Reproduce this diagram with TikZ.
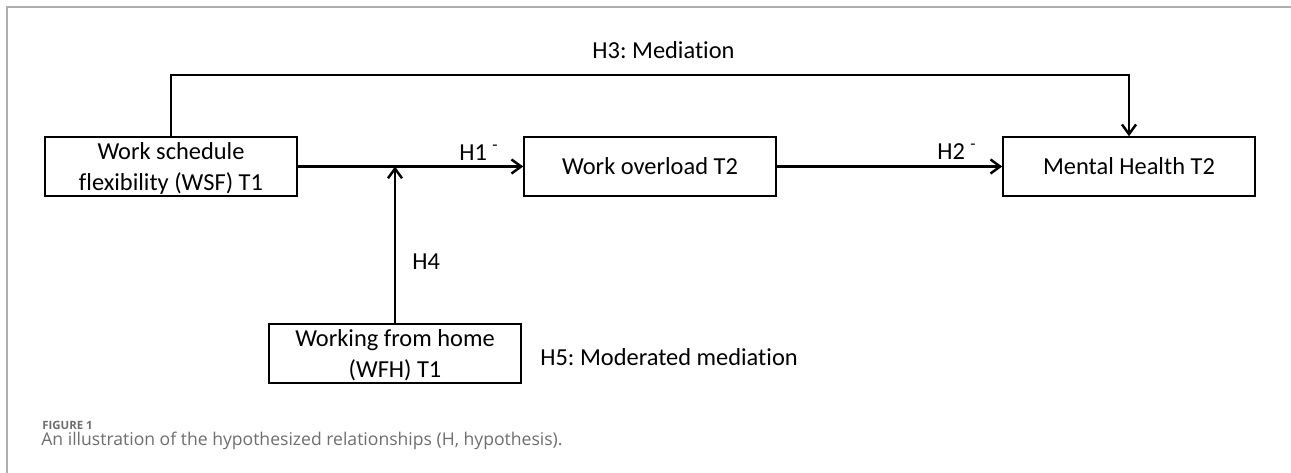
\documentclass[tikz,border=0pt]{standalone}
\usepackage{fontspec}
\setmainfont{Carlito}[Ligatures=NoCommon]
\newfontfamily\capfont{Open Sans}
\usetikzlibrary{arrows.meta}
\definecolor{framegray}{RGB}{175,175,175}
\definecolor{capgray}{RGB}{110,110,110}
\frenchspacing

\begin{document}
\begin{tikzpicture}[x=0.02cm, y=-0.02cm,  % 按像素坐标绘制
        box/.style={draw, line width=0.9pt, minimum width=5.04cm, minimum height=1.18cm,
            align=center, inner sep=0pt, text depth=0pt, font=\fontsize{13.9}{17.6}\selectfont},
        conn/.style={line width=1.4pt, -{Straight Barb[length=5.5pt,width=8pt]}},
        lbl/.style={anchor=base west, inner sep=0pt, font=\fontsize{13.9}{17}\selectfont}]

        % 画布范围与外框
        \useasboundingbox (0,0) rectangle (1291,473);
        \draw[framegray, line width=0.8pt] (7,473) -- (7,7) -- (1291,7);

        % 四个变量框
        \node[box] (wsf) at (171,166.5) {Work schedule\\flexibility (WSF) T1}; % 自变量
        \node[box] (wo) at (650,166.5) {Work overload T2}; % 中介变量
        \node[box] (mh) at (1129,166.5) {Mental Health T2}; % 因变量
        \node[box] (wfh) at (395,353.5) {Working from home\\(WFH) T1}; % 调节变量

        % 路径
        \coordinate (h3top) at (650,75);
        \draw[conn] (wsf.east) -- (wo.west); % H1
        \draw[conn] (wo.east) -- (mh.west); % H2
        \draw[conn] (wsf.north) |- (h3top) -| (mh.north); % H3
        \draw[conn] (wfh.north) -- (wfh.north |- wsf.east); % H4

        % 标签
        \node[lbl, anchor=base] (h3) at (663.5,59) {H3: Mediation};
        \node[lbl] (h1) at (459,160) {H1 \textsuperscript{-}};
        \node[lbl] (h2) at (937,159) {H2 \textsuperscript{-}};
        \node[lbl] (h4) at (412,269) {H4};
        \node[lbl] (h5) at (540,365) {H5: Moderated mediation};

        % 图注
        \node[anchor=base west, inner sep=0pt, text=capgray,
            font=\capfont\bfseries\fontsize{6.5}{8}\selectfont] (figno) at (42,429) {FIGURE 1};
        \node[anchor=base west, inner sep=0pt, text=capgray,
            font=\capfont\fontsize{10}{12}\selectfont] (cap) at (41,445)
            {An illustration of the hypothesized relationships (H, hypothesis).};

    \end{tikzpicture}
\end{document}
